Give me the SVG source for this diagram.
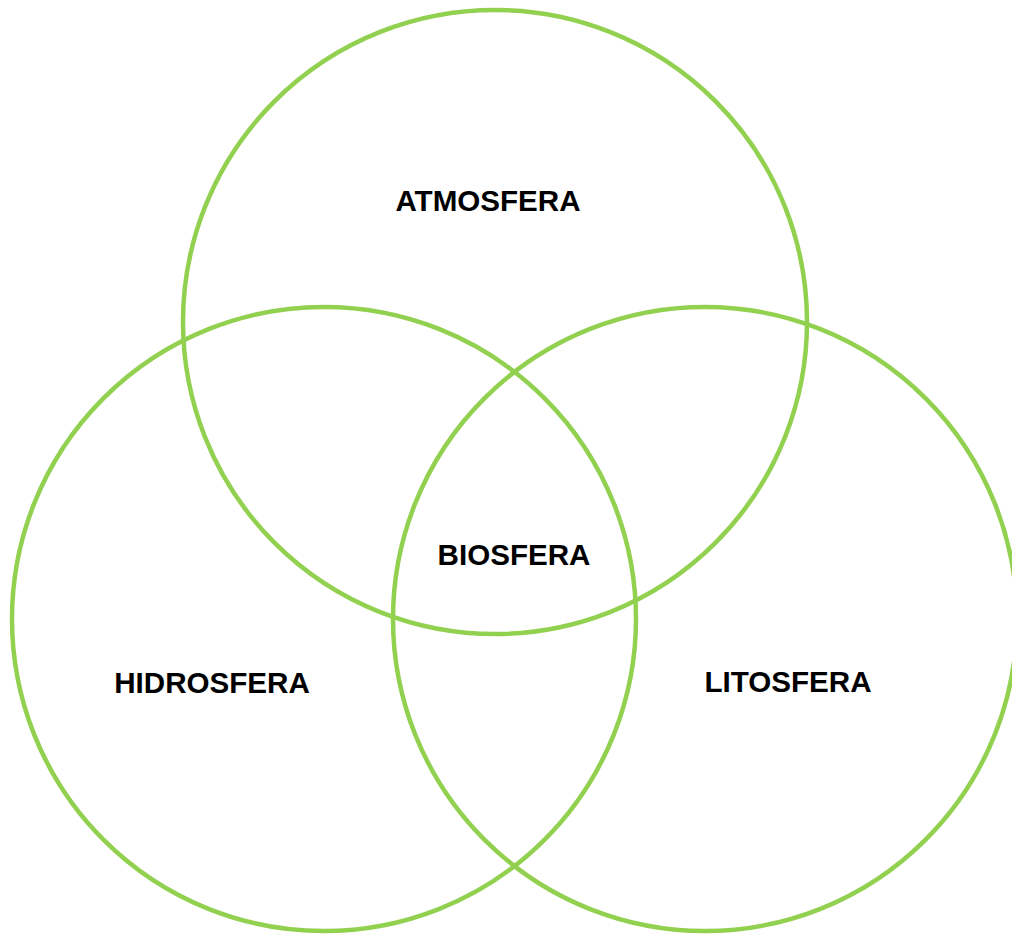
<svg xmlns="http://www.w3.org/2000/svg" width="1012" height="934" viewBox="0 0 1012 934">
<style>
.c{fill:none;stroke:#92D050;stroke-width:4.5}
.t{font-family:"Liberation Sans",Arial,sans-serif;font-weight:bold;font-size:29.6px;fill:#000;text-anchor:middle}
</style>
<rect width="1012" height="934" fill="#fff"/>
<g id="atmosfera"><circle class="c" cx="495" cy="322" r="312"/><text class="t" x="488" y="211">ATMOSFERA</text></g>
<g id="hidrosfera"><circle class="c" cx="324" cy="619" r="312"/><text class="t" x="212" y="693">HIDROSFERA</text></g>
<g id="litosfera"><circle class="c" cx="705" cy="619" r="312"/><text class="t" x="788" y="692">LITOSFERA</text></g>
<g id="biosfera"><text class="t" x="514" y="565">BIOSFERA</text></g>
<g id="connectors"></g>
</svg>
